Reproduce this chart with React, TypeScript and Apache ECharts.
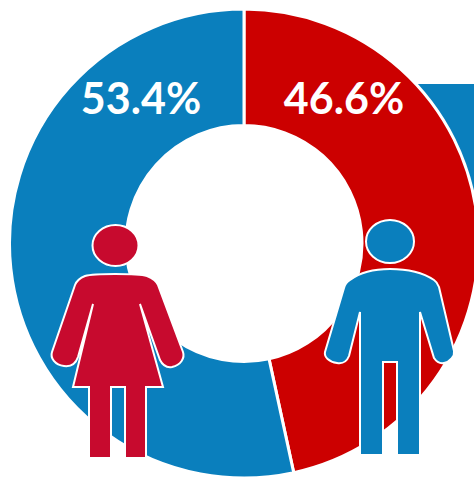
import React, { useEffect, useRef } from "react";
import * as echarts from "echarts";

const groups = ["Men", "Women"];
const shares = [46.6, 53.4];
const sliceColors = ["#cc0000", "#0a7fbd"];
const figureColors = { woman: "#c70a2e", man: "#0a7fbd" };
const labelSpots = [
  { x: 344, y: 97 },
  { x: 141, y: 97 },
];

const womanBody =
  "M115 274 C128 274 140 274 147 276 C152 278 156 280 158 285 L183 352 C185 358 181 365 172 367 C166 368 162 364 160 360 L140 304 L163 387 L146 387 L146 458 L125 458 L125 387 L111 387 L111 458 L89 458 L89 387 L73 387 L93 304 L78 357 C76 363 72 367 64 366 C55 365 50 358 52 352 L75 285 C77 280 80 278 85 276 C92 274 102 274 115 274 Z";
const manBody =
  "M390 269 C410 269 425 274 434 280 C437 282 438 284 439 287 L454 351 C455 356 450 362 444 363 C439 364 436 361 434 358 L420 312 L420 455 L397 455 L397 362 L383 362 L383 455 L360 455 L360 312 L349 356 C347 361 343 364 337 363 C329 362 324 357 325 352 L344 288 C345 284 347 282 350 280 C358 274 372 269 390 269 Z";

echarts.graphic.registerShape("womanBody", echarts.graphic.extendPath(womanBody, {}));
echarts.graphic.registerShape("manBody", echarts.graphic.extendPath(manBody, {}));

const outline = { stroke: "#ffffff", lineWidth: 2 };

export default function App() {
  const ref = useRef<HTMLDivElement>(null);

  useEffect(() => {
    document.body.style.margin = "0";
    const chart = echarts.init(ref.current!, null, { renderer: "svg" });
    chart.setOption({
      animation: false,
      backgroundColor: "#ffffff",
      series: [
        {
          type: "pie",
          center: [244, 243.5],
          radius: [118, 234.5],
          startAngle: 90,
          clockwise: true,
          z: 2,
          itemStyle: { borderColor: "#ffffff", borderWidth: 3 },
          label: {
            show: true,
            position: "inside",
            formatter: "{c}%",
            color: "#ffffff",
            fontFamily: "Lato",
            fontWeight: 700,
            fontSize: 43,
          },
          labelLine: { show: false },
          labelLayout: (p: { dataIndex: number }) => ({
            x: labelSpots[p.dataIndex].x,
            y: labelSpots[p.dataIndex].y,
            align: "center",
            verticalAlign: "middle",
          }),
          emphasis: { disabled: true },
          data: groups.map((name, i) => ({
            name,
            value: shares[i],
            itemStyle: { color: sliceColors[i] },
          })),
        },
      ],
      graphic: [
        {
          type: "rect",
          z: 0,
          shape: { x: 395, y: 84, width: 79, height: 130 },
          style: { fill: "#0a7fbd" },
        },
        {
          type: "ellipse",
          z: 10,
          shape: { cx: 115.5, cy: 245.5, rx: 23, ry: 20.5 },
          style: { fill: figureColors.woman, ...outline },
        },
        { type: "womanBody", z: 10, style: { fill: figureColors.woman, ...outline } },
        {
          type: "ellipse",
          z: 10,
          shape: { cx: 390, cy: 241.5, rx: 24, ry: 21.5 },
          style: { fill: figureColors.man, ...outline },
        },
        { type: "manBody", z: 10, style: { fill: figureColors.man, ...outline } },
      ],
    });
    return () => chart.dispose();
  }, []);

  return <div ref={ref} style={{ width: 474, height: 477 }} />;
}
